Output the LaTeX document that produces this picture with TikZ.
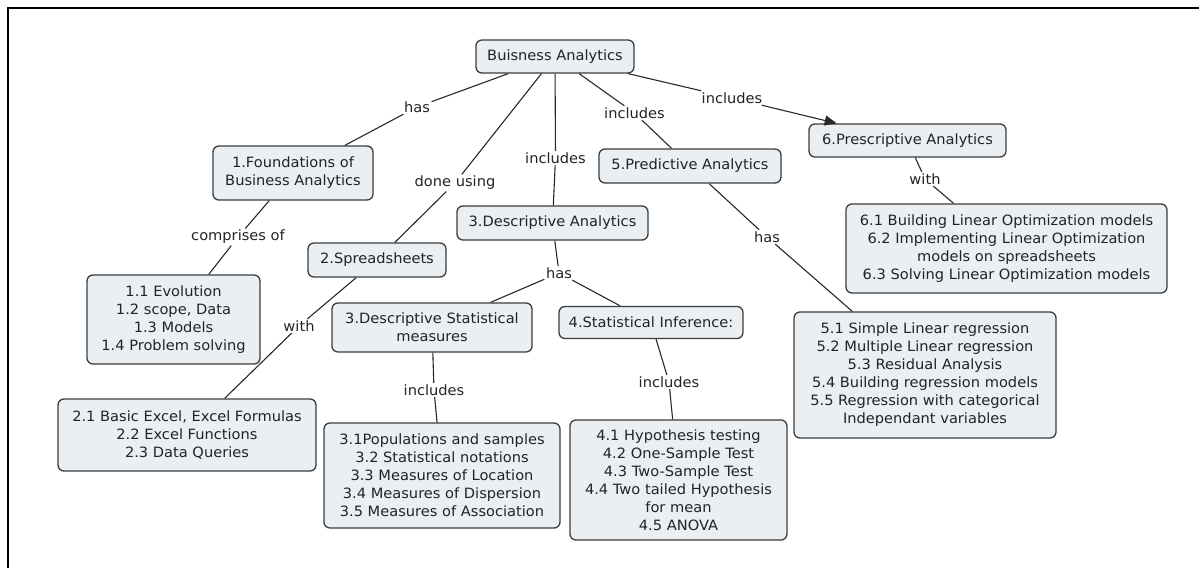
\documentclass[tikz,border=0pt]{standalone}
\usepackage{fontspec}
\setmainfont{DejaVu Sans}[FakeStretch=1.03]
\usetikzlibrary{arrows.meta}

\definecolor{boxfill}{RGB}{233,239,243}
\definecolor{boxline}{RGB}{60,60,60}
\definecolor{txt}{RGB}{35,35,35}
\definecolor{linecol}{RGB}{40,40,40}

\tikzset{
  concept/.style={draw=boxline, fill=boxfill, line width=1.3pt, rounded corners=6pt,
    text=txt, align=center, inner sep=0pt,
    font=\fontsize{14.2}{18}\selectfont},
  linklabel/.style={text=txt, inner sep=1.5pt, font=\fontsize{14.2}{18}\selectfont},
  conn/.style={draw=linecol, line width=1.1pt},
  frameline/.style={draw=black, line width=2pt}
}

\begin{document}
\begin{tikzpicture}[x=1pt,y=-1pt]
\useasboundingbox (0,0) rectangle (1199,568);

% outer frame (top and left edges)
\draw[frameline] (8,568) -- (8,8) -- (1199,8);

% concepts
\node[concept, minimum width=158, minimum height=33] (ba) at (555,56.5) {Buisness Analytics};
\node[concept, minimum width=160, minimum height=54] (fb) at (293,173) {1.Foundations of\\Business Analytics};
\node[concept, minimum width=138, minimum height=34] (sp) at (377,260) {2.Spreadsheets};
\node[concept, minimum width=191, minimum height=34] (da) at (552.5,223) {3.Descriptive Analytics};
\node[concept, minimum width=182, minimum height=34] (pa) at (690,166) {5.Predictive Analytics};
\node[concept, minimum width=197, minimum height=33] (pr) at (907.5,140.5) {6.Prescriptive Analytics};

\node[concept, minimum width=321, minimum height=89] (p6) at (1006.5,248.5)
  {6.1 Building Linear Optimization models\\6.2 Implementing Linear Optimization\\models on spreadsheets\\6.3 Solving Linear Optimization models};
\node[concept, minimum width=262, minimum height=126] (p5) at (925,375)
  {5.1 Simple Linear regression\\5.2 Multiple Linear regression\\5.3 Residual Analysis\\5.4 Building regression models\\5.5 Regression with categorical\\Independant variables};
\node[concept, minimum width=173, minimum height=89] (p1) at (173.5,319.5)
  {1.1 Evolution\\1.2 scope, Data\\1.3 Models\\1.4 Problem solving};
\node[concept, minimum width=258, minimum height=72] (p2) at (187,435)
  {2.1 Basic Excel, Excel Formulas\\2.2 Excel Functions\\2.3 Data Queries};
\node[concept, minimum width=200, minimum height=49] (dsm) at (432,327.5)
  {3.Descriptive Statistical\\measures};
\node[concept, minimum width=184, minimum height=32] (si) at (651,322.5) {4.Statistical Inference:};
\node[concept, minimum width=236, minimum height=105] (p3) at (442,475.5)
  {3.1Populations and samples\\3.2 Statistical notations\\3.3 Measures of Location\\3.4 Measures of Dispersion\\3.5 Measures of Association};
\node[concept, minimum width=217, minimum height=120] (p4) at (678.5,480)
  {4.1 Hypothesis testing\\4.2 One-Sample Test\\4.3 Two-Sample Test\\4.4 Two tailed Hypothesis\\for mean\\4.5 ANOVA};

% linking phrases
\node[linklabel] (lhas) at (417,107) {has};
\node[linklabel] (ldone) at (455,183) {done using};
\node[linklabel] (linc3) at (555.5,158) {includes};
\node[linklabel] (linc5) at (634.5,113) {includes};
\node[linklabel] (linc6) at (732,98) {includes};
\node[linklabel] (lcomp) at (238,237) {comprises of};
\node[linklabel] (lwith2) at (299,326) {with};
\node[linklabel] (lhas3) at (559,273) {has};
\node[linklabel] (linc31) at (434,390) {includes};
\node[linklabel] (linc41) at (669,382) {includes};
\node[linklabel] (lhas5) at (767,237) {has};
\node[linklabel] (lwith6) at (925,179) {with};

% connectors
\draw[conn] (ba) -- (lhas);   \draw[conn] (lhas) -- (fb);
\draw[conn] (ba) -- (ldone);  \draw[conn] (ldone) -- (sp);
\draw[conn] (ba) -- (linc3);  \draw[conn] (linc3) -- (da);
\draw[conn] (ba) -- (linc5);  \draw[conn] (linc5) -- (pa);
\draw[conn] (ba) -- (linc6);  \draw[conn, -{Triangle[length=12pt,width=10pt]}] (linc6) -- (pr);
\draw[conn] (fb) -- (lcomp);  \draw[conn] (lcomp) -- (p1);
\draw[conn] (sp) -- (lwith2); \draw[conn] (lwith2) -- (p2);
\draw[conn] (da) -- (lhas3);  \draw[conn] (lhas3) -- (dsm); \draw[conn] (lhas3) -- (si);
\draw[conn] (dsm) -- (linc31); \draw[conn] (linc31) -- (p3);
\draw[conn] (si) -- (linc41); \draw[conn] (linc41) -- (p4);
\draw[conn] (pa) -- (lhas5);  \draw[conn] (lhas5) -- (p5);
\draw[conn] (pr) -- (lwith6); \draw[conn] (lwith6) -- (p6);
\end{tikzpicture}
\end{document}
